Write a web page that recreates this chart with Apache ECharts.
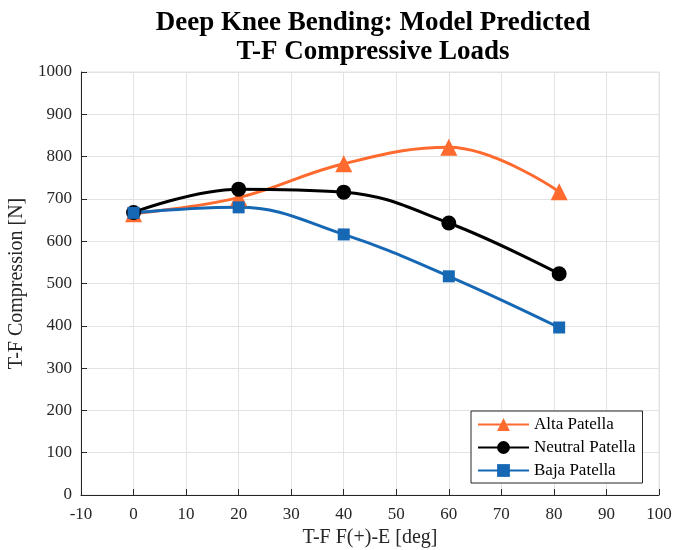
<!DOCTYPE html>
<html><head><meta charset="utf-8">
<script src="https://cdn.jsdelivr.net/npm/echarts@6/dist/echarts.min.js"></script>
<style>html,body{margin:0;padding:0;background:#fff}#c{width:673px;height:550px}</style>
</head><body><div id="c"></div>
<script>
const xAlta = [0, 20, 40, 60, 81];
const alta = [665, 703, 783, 822, 717];
const xNeutral = [0, 20, 40, 60, 81];
const neutral = [668, 723, 716, 643, 523];
const xBaja = [0, 20, 40, 60, 81];
const baja = [667, 680, 616, 517, 396];
const titleLines = ['Deep Knee Bending: Model Predicted', 'T-F Compressive Loads'];
const xName = 'T-F F(+)-E [deg]';
const yName = 'T-F Compression [N]';

const font = '"Liberation Serif","Times New Roman",serif';
const chart = echarts.init(document.getElementById('c'));
const pairs = (xs, ys) => xs.map((x, i) => [x, ys[i]]);
const mk = (name, xs, ys, color, symbol, size) => ({
  name, type: 'line', data: pairs(xs, ys), smooth: 0.4,
  symbol, symbolSize: size, showAllSymbol: true,
  lineStyle: {color, width: 3}, itemStyle: {color},
  emphasis: {disabled: true}, z: 3
});
chart.setOption({
  animation: false,
  backgroundColor: '#fff',
  title: {
    text: titleLines.join('\n'), left: 368, top: 4, textAlign: 'center',
    textStyle: {fontFamily: font, fontWeight: 'bold', fontSize: 27, lineHeight: 29, color: '#000'}
  },
  grid: {left: 81, right: 14, top: 72, bottom: 55, containLabel: false, outerBoundsMode: 'none',
    show: true, borderColor: '#e3e3e3', borderWidth: 1},
  legend: {
    left: 471, top: 411, width: 174, orient: 'vertical', itemGap: 6,
    itemWidth: 51, itemHeight: 16,
    backgroundColor: '#fff', borderColor: '#262626', borderWidth: 1,
    padding: [5, 7, 4, 6],
    textStyle: {fontFamily: font, fontSize: 17, color: '#000'},
    data: ['Alta Patella', 'Neutral Patella', 'Baja Patella']
  },
  xAxis: {
    type: 'value', min: -10, max: 100, interval: 10,
    name: xName, nameLocation: 'middle', nameGap: 33,
    nameTextStyle: {fontFamily: font, fontSize: 20, color: '#262626'},
    axisLine: {show: true, onZero: false, lineStyle: {color: '#262626', width: 1}},
    axisTick: {show: true, inside: true, length: 6, lineStyle: {color: '#262626'}},
    axisLabel: {fontFamily: font, fontSize: 17, color: '#262626', margin: 11},
    splitLine: {show: true, lineStyle: {color: '#e3e3e3', width: 1}}
  },
  yAxis: {
    type: 'value', min: 0, max: 1000, interval: 100,
    name: yName, nameLocation: 'middle', nameGap: 45,
    nameTextStyle: {fontFamily: font, fontSize: 20, color: '#262626'},
    axisLine: {show: true, onZero: false, lineStyle: {color: '#262626', width: 1}},
    axisTick: {show: true, inside: true, length: 6, lineStyle: {color: '#262626'}},
    axisLabel: {fontFamily: font, fontSize: 17, color: '#262626', margin: 9, formatter: v => String(v)},
    splitLine: {show: true, lineStyle: {color: '#e3e3e3', width: 1}}
  },
  series: [
    mk('Alta Patella', xAlta, alta, '#ff6a2f', 'triangle', 17),
    mk('Neutral Patella', xNeutral, neutral, '#000000', 'circle', 15),
    mk('Baja Patella', xBaja, baja, '#1668b5', 'rect', 12)
  ]
});
</script></body></html>
